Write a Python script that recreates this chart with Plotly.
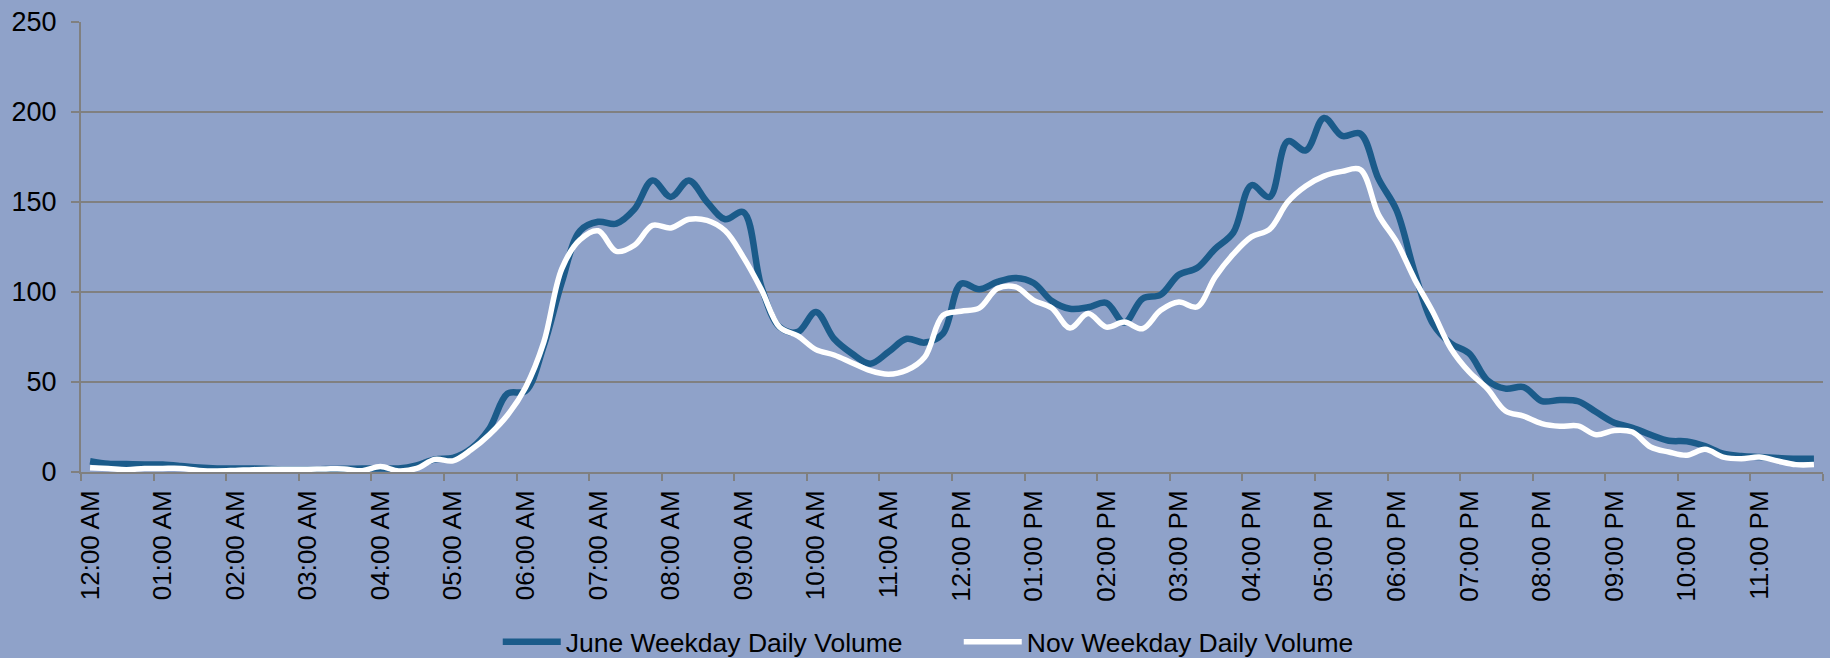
import plotly.graph_objects as go

# 15-minute intervals (96 categories), hour labels
hour_labels = ["12:00 AM", "01:00 AM", "02:00 AM", "03:00 AM", "04:00 AM", "05:00 AM",
               "06:00 AM", "07:00 AM", "08:00 AM", "09:00 AM", "10:00 AM", "11:00 AM",
               "12:00 PM", "01:00 PM", "02:00 PM", "03:00 PM", "04:00 PM", "05:00 PM",
               "06:00 PM", "07:00 PM", "08:00 PM", "09:00 PM", "10:00 PM", "11:00 PM"]

june = [6.0, 4.6, 4.4, 4.2, 4.1, 3.4, 2.5, 2.0, 1.9, 2.0, 1.7, 1.4, 1.4, 1.6, 1.8, 2.0,
        2.0, 2.0, 3.7, 7.0, 7.8, 13.0, 24.0, 43.5, 45.0, 70.0, 105.5, 134.0, 139.0, 138.0, 146.0, 162.0,
        152.8, 162.0, 150.0, 140.4, 144.4, 102.8, 80.5, 77.8, 88.9, 74.0, 65.7, 60.2, 66.7, 74.0, 71.9, 76.9,
        104.6, 101.5, 105.6, 107.8, 105.0, 95.0, 90.7, 91.5, 94.0, 83.0, 96.3, 98.5, 109.6, 113.3, 124.0, 133.0,
        159.3, 152.8, 183.7, 178.7, 196.7, 186.7, 188.0, 163.0, 145.4, 110.7, 82.4, 71.3, 65.9, 51.0, 46.3, 47.2,
        39.4, 40.0, 39.3, 33.3, 27.4, 24.6, 20.7, 17.4, 17.0, 14.4, 10.2, 8.9, 8.3, 7.8, 7.4, 7.4]

nov = [2.4, 1.9, 1.3, 1.9, 2.0, 2.0, 0.9, 0.6, 0.9, 1.3, 1.5, 1.5, 1.5, 1.7, 1.7, 0.7,
       3.0, 0.6, 2.0, 7.0, 6.2, 12.3, 20.7, 31.5, 47.0, 72.0, 113.0, 129.0, 134.0, 122.6, 126.0, 137.0,
       135.6, 140.4, 139.8, 134.0, 119.4, 101.3, 80.5, 75.6, 68.0, 65.0, 60.6, 56.3, 54.3, 56.5, 63.9, 87.0,
       89.3, 91.0, 101.9, 102.8, 95.4, 91.1, 80.0, 88.0, 80.5, 83.3, 79.6, 89.8, 94.4, 91.7, 108.3, 121.0,
       130.6, 134.8, 150.0, 158.9, 164.4, 167.0, 168.0, 143.0, 127.8, 107.0, 88.9, 68.5, 55.6, 46.3, 33.9, 31.0,
       26.9, 25.4, 25.6, 20.7, 23.1, 22.2, 13.9, 11.1, 9.3, 12.6, 8.3, 7.4, 8.3, 6.1, 4.1, 4.1]

# category centres (hours), Excel "between tick marks" layout
x = [0.125 + 0.25 * i for i in range(len(june))]

BG = "#8fa2c9"
GRID = "#808080"
FONT = "Liberation Sans, Arial, sans-serif"

fig = go.Figure()
fig.add_trace(go.Scatter(x=x, y=june, mode="lines", name="June Weekday Daily Volume",
                         line=dict(color="#1b5b8a", width=6.5, shape="spline", smoothing=1.0)))
fig.add_trace(go.Scatter(x=x, y=nov, mode="lines", name="Nov Weekday Daily Volume",
                         line=dict(color="#ffffff", width=5.5, shape="spline", smoothing=1.0)))

fig.update_layout(
    width=1830, height=658,
    paper_bgcolor=BG, plot_bgcolor=BG,
    margin=dict(l=81, r=7, t=22, b=186, autoexpand=False),
    font=dict(family=FONT, size=26, color="#000000"),
    showlegend=True,
    legend=dict(orientation="h", xref="container", yref="container",
                x=0.272, xanchor="left", y=1 - 642 / 658, yanchor="middle",
                font=dict(size=26.5), bgcolor="rgba(0,0,0,0)", itemwidth=58,
                entrywidth=388, entrywidthmode="pixels",
                tracegroupgap=0),
    xaxis=dict(range=[0, 24], tickmode="array", automargin=False,
               tickvals=[h + 0.125 for h in range(24)], ticktext=hour_labels,
               tickangle=-90, ticks="", ticklabelstandoff=6,
               showgrid=False, zeroline=False,
               showline=True, linecolor=GRID, linewidth=2,
               minor=dict(tickmode="array", tickvals=list(range(25)), ticks="outside",
                          ticklen=7, tickwidth=1.5, tickcolor=GRID, showgrid=False),
               tickfont=dict(size=26, family=FONT)),
    yaxis=dict(range=[0, 250], tickmode="linear", tick0=0, dtick=50, automargin=False,
               showgrid=True, gridcolor=GRID, gridwidth=1.5, zeroline=False,
               showline=True, linecolor=GRID, linewidth=2,
               ticks="outside", ticklen=8, tickwidth=1.5, tickcolor=GRID,
               ticklabelstandoff=9,
               tickfont=dict(size=27, family=FONT)),
)

fig.write_html("out.html", config={"displayModeBar": False},
               post_script="document.body.style.margin='0';")
